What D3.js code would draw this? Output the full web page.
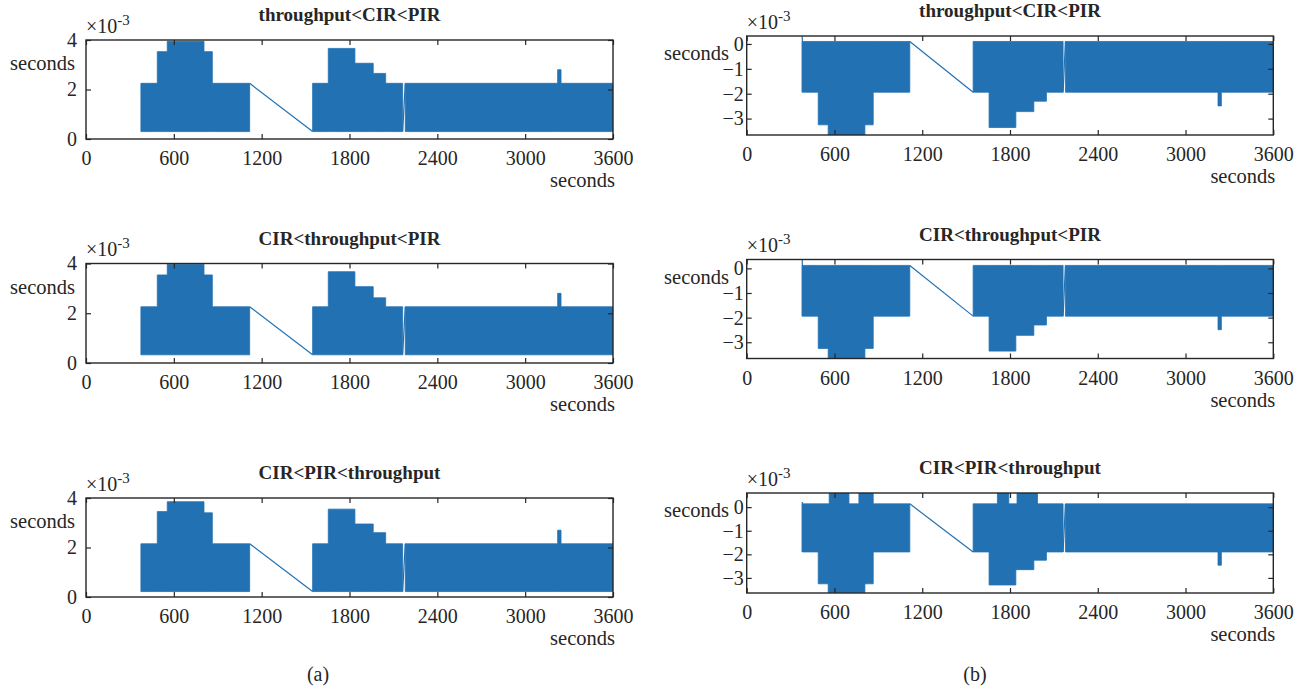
<!DOCTYPE html>
<html>
<head>
<meta charset="utf-8">
<script src="https://cdn.jsdelivr.net/npm/d3@7/dist/d3.min.js"></script>
<style>
  html, body { margin: 0; padding: 0; background: #ffffff; }
  svg { display: block; }
  text { font-family: "Liberation Serif", "Times New Roman", serif; fill: #262626; }
</style>
</head>
<body>
<svg id="chart" width="1312" height="690"></svg>
<script>
// ---------------- DATA (values in units of 10^-3 s) ----------------
const xTicks = [0, 600, 1200, 1800, 2400, 3000, 3600];
const leftYTicks = [0, 2, 4];
const rightYTicks = [-3, -2, -1, 0];
const titles = ["throughput<CIR<PIR", "CIR<throughput<PIR", "CIR<PIR<throughput"];
const panelLabels = ["(a)", "(b)"];

// (a) one-way delay envelopes: segment start/end times and low/high values
const aStart = [375, 487, 555, 806, 863, 1548, 1655, 1837, 1962, 2047, 2181, 3222, 3245];
const aEnd   = [487, 555, 806, 863, 1118, 1655, 1837, 1962, 2047, 2163, 3222, 3245, 3600];
const a1High = [2.25, 3.53, 3.95, 3.53, 2.25, 2.25, 3.66, 3.06, 2.65, 2.25, 2.25, 2.8, 2.25];
const a1Low  = [0.3, 0.3, 0.3, 0.3, 0.3, 0.3, 0.3, 0.3, 0.3, 0.3, 0.3, 0.3, 0.3];
const a2High = [2.26, 3.54, 3.97, 3.54, 2.26, 2.26, 3.67, 3.07, 2.62, 2.26, 2.26, 2.8, 2.26];
const a2Low  = [0.33, 0.33, 0.33, 0.33, 0.33, 0.33, 0.33, 0.33, 0.33, 0.33, 0.33, 0.33, 0.33];
const a3High = [2.15, 3.45, 3.85, 3.4, 2.15, 2.15, 3.55, 2.95, 2.6, 2.15, 2.15, 2.7, 2.15];
const a3Low  = [0.22, 0.22, 0.22, 0.22, 0.22, 0.22, 0.22, 0.22, 0.22, 0.22, 0.22, 0.22, 0.22];
// (a) connecting lines (time, value pairs)
const aGapT = [1118, 1548];
const a1GapV = [2.25, 0.3];
const a2GapV = [2.26, 0.33];
const a3GapV = [2.15, 0.22];
const aJumpT = [2163, 2181];
const a1JumpV = [0.3, 2.25];
const a2JumpV = [0.33, 2.26];
const a3JumpV = [0.22, 2.15];

// (b) envelopes
const bStart = [380, 489, 557, 808, 865, 1548, 1657, 1840, 1963, 2049, 2179, 3222, 3245];
const bEnd   = [489, 557, 808, 865, 1115, 1657, 1840, 1963, 2049, 2163, 3222, 3245, 3600];
const b1Low  = [-1.94, -3.25, -3.66, -3.25, -1.94, -1.94, -3.36, -2.72, -2.3, -1.94, -1.94, -2.49, -1.94];
const b1High = [0.1, 0.1, 0.1, 0.1, 0.1, 0.1, 0.1, 0.1, 0.1, 0.1, 0.1, 0.1, 0.1];
const b2Low  = [-1.94, -3.25, -3.66, -3.25, -1.94, -1.94, -3.36, -2.72, -2.3, -1.94, -1.94, -2.49, -1.94];
const b2High = [0.12, 0.12, 0.12, 0.12, 0.12, 0.12, 0.12, 0.12, 0.12, 0.12, 0.12, 0.12, 0.12];
const b3Start = [380, 489, 557, 564, 699, 767, 808, 865, 1548, 1657, 1714, 1792, 1840, 1848, 1963, 1988, 2049, 2179, 3222, 3245];
const b3End   = [489, 557, 564, 699, 767, 808, 865, 1115, 1657, 1714, 1792, 1840, 1848, 1963, 1988, 2049, 2163, 3222, 3245, 3600];
const b3Low  = [-1.9, -3.25, -3.63, -3.63, -3.63, -3.63, -3.25, -1.9, -1.9, -3.3, -3.3, -3.3, -2.65, -2.65, -2.25, -2.25, -1.9, -1.9, -2.46, -1.9];
const b3High = [0.14, 0.14, 0.14, 0.6, 0.14, 0.6, 0.6, 0.14, 0.14, 0.14, 0.6, 0.14, 0.14, 0.6, 0.6, 0.14, 0.14, 0.14, 0.14, 0.14];
// (b) connecting lines
const bSpikeT = [380, 380];
const b1SpikeV = [-1.94, 0.31];
const b2SpikeV = [-1.94, 0.35];
const b3SpikeV = [-1.9, 0.22];
const bGapT = [1115, 1548];
const b1GapV = [0.1, -1.94];
const b2GapV = [0.12, -1.94];
const b3GapV = [0.14, -1.9];
const bJumpT = [2163, 2179];
const b1JumpV = [-1.94, 0.1];
const b2JumpV = [-1.94, 0.12];
const b3JumpV = [-1.9, 0.14];

// ---------------- LAYOUT ----------------
const color = "#2271b3";
const axisColor = "#262626";
const svg = d3.select("#chart");

const panels = [
  { x0: 86, x1: 613, y0: 40, y1: 139, dom: [0, 4], yt: leftYTicks, title: titles[0],
    start: aStart, end: aEnd, low: a1Low, high: a1High,
    lines: [[aGapT, a1GapV], [aJumpT, a1JumpV]], side: "a" },
  { x0: 86, x1: 613, y0: 263.5, y1: 363, dom: [0, 4], yt: leftYTicks, title: titles[1],
    start: aStart, end: aEnd, low: a2Low, high: a2High,
    lines: [[aGapT, a2GapV], [aJumpT, a2JumpV]], side: "a" },
  { x0: 86, x1: 613, y0: 498, y1: 597, dom: [0, 4], yt: leftYTicks, title: titles[2],
    start: aStart, end: aEnd, low: a3Low, high: a3High,
    lines: [[aGapT, a3GapV], [aJumpT, a3JumpV]], side: "a" },
  { x0: 746.7, x1: 1273.3, y0: 36, y1: 135, dom: [-3.66, 0.32], yt: rightYTicks, title: titles[0],
    start: bStart, end: bEnd, low: b1Low, high: b1High,
    lines: [[bSpikeT, b1SpikeV], [bGapT, b1GapV], [bJumpT, b1JumpV]], side: "b" },
  { x0: 746.7, x1: 1273.3, y0: 259.5, y1: 358.5, dom: [-3.66, 0.36], yt: rightYTicks, title: titles[1],
    start: bStart, end: bEnd, low: b2Low, high: b2High,
    lines: [[bSpikeT, b2SpikeV], [bGapT, b2GapV], [bJumpT, b2JumpV]], side: "b" },
  { x0: 746.7, x1: 1273.3, y0: 493, y1: 593, dom: [-3.64, 0.6], yt: rightYTicks, title: titles[2],
    start: b3Start, end: b3End, low: b3Low, high: b3High,
    lines: [[bSpikeT, b3SpikeV], [bGapT, b3GapV], [bJumpT, b3JumpV]], side: "b" }
];

const fs = 20;
const fmt = d => (d < 0 ? "\u2212" + Math.abs(d) : String(d));

panels.forEach(p => {
  const x = d3.scaleLinear().domain([0, 3600]).range([p.x0, p.x1]);
  const y = d3.scaleLinear().domain(p.dom).range([p.y1, p.y0]);
  const g = svg.append("g");

  const cid = "clip" + Math.round(p.x0) + "_" + Math.round(p.y0);
  svg.append("clipPath").attr("id", cid).append("rect")
    .attr("x", p.x0).attr("y", p.y0).attr("width", p.x1 - p.x0).attr("height", p.y1 - p.y0);
  const plot = g.append("g").attr("clip-path", `url(#${cid})`);

  // build contiguous runs of the envelope
  const runs = [];
  let cur = [];
  p.start.forEach((s, i) => {
    if (i > 0 && s !== p.end[i - 1]) { runs.push(cur); cur = []; }
    cur.push({ t: s, lo: p.low[i], hi: p.high[i] });
    cur.push({ t: p.end[i], lo: p.low[i], hi: p.high[i] });
  });
  runs.push(cur);

  const area = d3.area().x(d => x(d.t)).y0(d => y(d.lo)).y1(d => y(d.hi));
  plot.selectAll("path.env").data(runs).enter().append("path").attr("class", "env")
    .attr("d", area).attr("fill", color).attr("stroke", color).attr("stroke-width", 0.8)
    .attr("stroke-linejoin", "miter");

  // connecting lines
  const ln = d3.line().x(d => x(d[0])).y(d => y(d[1]));
  p.lines.forEach(([ts, vs]) => {
    plot.append("path").datum(ts.map((t, i) => [t, vs[i]]))
      .attr("d", ln).attr("fill", "none").attr("stroke", color).attr("stroke-width", 1.2);
  });

  // axes (MATLAB style: ticks inside, box)
  const tickLen = 5;
  g.append("g").attr("transform", `translate(0,${p.y1})`)
    .call(d3.axisBottom(x).tickValues(xTicks).tickSize(-tickLen).tickPadding(12).tickFormat(d3.format("d")))
    .call(a => a.select(".domain").remove())
    .call(a => a.selectAll("line").attr("stroke", axisColor).attr("stroke-width", 1.2))
    .call(a => a.selectAll("text").attr("font-size", fs).attr("fill", axisColor)
      .attr("font-family", '"Liberation Serif", serif'));
  g.append("g").attr("transform", `translate(0,${p.y0})`)
    .call(d3.axisTop(x).tickValues(xTicks).tickSize(-tickLen).tickFormat(""))
    .call(a => a.select(".domain").remove())
    .call(a => a.selectAll("line").attr("stroke", axisColor).attr("stroke-width", 1.2));
  const pad = p.side === "a" ? 9 : 3;
  g.append("g").attr("transform", `translate(${p.x0},0)`)
    .call(d3.axisLeft(y).tickValues(p.yt).tickSize(-tickLen).tickPadding(pad).tickFormat(fmt))
    .call(a => a.select(".domain").remove())
    .call(a => a.selectAll("line").attr("stroke", axisColor).attr("stroke-width", 1.2))
    .call(a => a.selectAll("text").attr("font-size", fs).attr("fill", axisColor)
      .attr("font-family", '"Liberation Serif", serif'));
  g.append("g").attr("transform", `translate(${p.x1},0)`)
    .call(d3.axisRight(y).tickValues(p.yt).tickSize(-tickLen).tickFormat(""))
    .call(a => a.select(".domain").remove())
    .call(a => a.selectAll("line").attr("stroke", axisColor).attr("stroke-width", 1.2));

  g.append("rect").attr("x", p.x0).attr("y", p.y0)
    .attr("width", p.x1 - p.x0).attr("height", p.y1 - p.y0)
    .attr("fill", "none").attr("stroke", axisColor).attr("stroke-width", 1.4);

  // title
  g.append("text").attr("x", (p.x0 + p.x1) / 2).attr("y", p.y0 - 19)
    .attr("text-anchor", "middle").attr("font-size", 19).attr("font-weight", "bold")
    .text(p.title);

  // exponent
  const ex = g.append("text").attr("x", p.x0).attr("y", p.y0 - 7.5).attr("font-size", fs);
  ex.append("tspan").text("\u00d710");
  ex.append("tspan").attr("font-size", 15).attr("dy", -8).text("-3");

  // y label
  if (p.side === "a") {
    g.append("text").attr("x", 75).attr("y", p.y0 + 30).attr("text-anchor", "end")
      .attr("font-size", 20.5).text("seconds");
  } else {
    g.append("text").attr("x", 729).attr("y", p.y0 + 24).attr("text-anchor", "end")
      .attr("font-size", 20.5).text("seconds");
  }
  // x label
  g.append("text").attr("x", p.x1 + 2).attr("y", p.y1 + 48).attr("text-anchor", "end")
    .attr("font-size", 20.5).text("seconds");
});

svg.append("text").attr("x", 318).attr("y", 681).attr("text-anchor", "middle")
  .attr("font-size", fs).text(panelLabels[0]);
svg.append("text").attr("x", 975).attr("y", 681).attr("text-anchor", "middle")
  .attr("font-size", fs).text(panelLabels[1]);
</script>
</body>
</html>
